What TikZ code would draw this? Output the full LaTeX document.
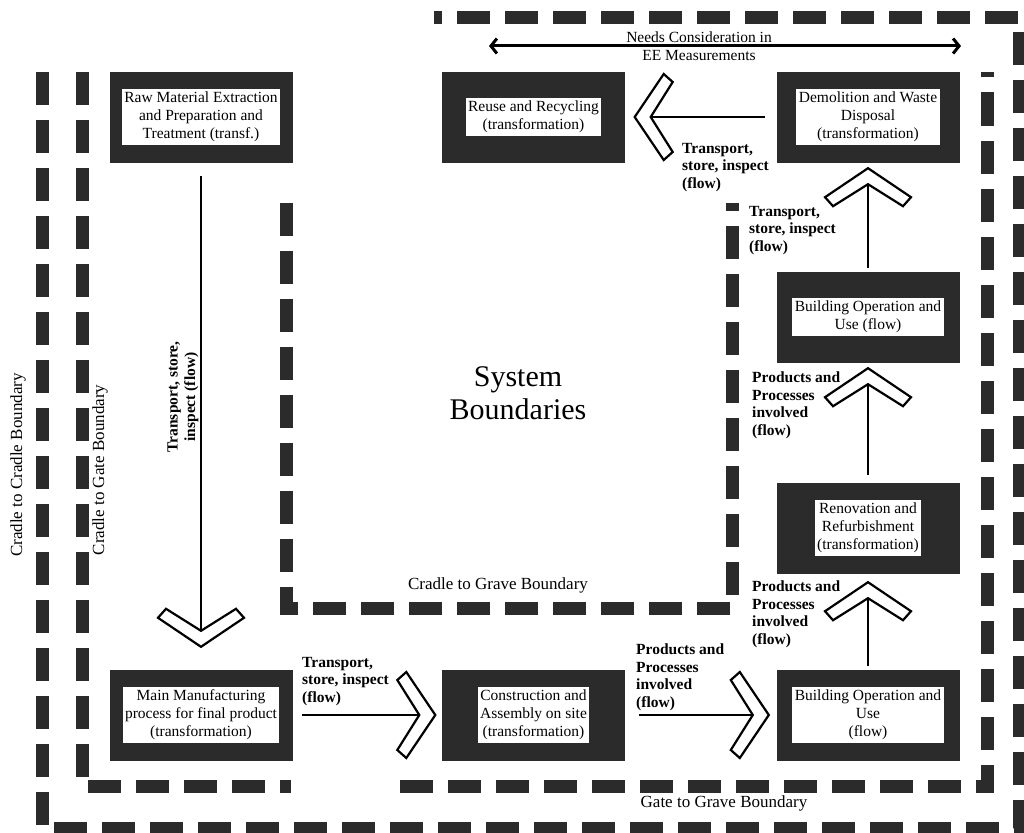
\documentclass[tikz,border=0pt]{standalone}
\usepackage{fontspec}
\setmainfont{Liberation Serif}
\usetikzlibrary{arrows.meta}
\begin{document}
\begin{tikzpicture}[x=1pt,y=-1pt,
  bnd/.style={line width=13pt, dash pattern=on 33pt off 15pt, draw=black!83},
  outerbox/.style={fill=black!83, draw=black!83, minimum width=182pt, minimum height=90pt, inner sep=0pt},
  innerbox/.style={fill=white, inner sep=2.5pt, align=center, font=\fontsize{15.5}{18}\selectfont},
  lbl/.style={font=\bfseries\fontsize{15.5}{17.5}\selectfont, align=left, inner sep=0pt, anchor=north west},
  blbl/.style={font=\fontsize{17}{20}\selectfont, inner sep=0pt},
  flow/.style={line width=2.6pt, draw=black},
  chev/.pic={\draw[line width=2.2pt, fill=white, line join=miter] (0,0) -- (-29,43) -- (-38,35) -- (-16,0) -- (-38,-35) -- (-29,-43) -- cycle;}
]
\useasboundingbox (0,0) rectangle (1024,832);

% boundaries
\draw[bnd] (42,72) -- (42,828) -- (1019,828) -- (1019,18) -- (434,18);
\draw[bnd] (82,72) -- (82,786.5) -- (291,786.5);
\draw[bnd] (400,786.5) -- (987,786.5) -- (987,72);
\draw[bnd] (286,203) -- (286,608) -- (732,608) -- (732,203);

% boundary labels
\node[blbl, rotate=90] (cc) at (18,465) {Cradle to Cradle Boundary};
\node[blbl, rotate=90] (cg) at (100,470) {Cradle to Gate Boundary};
\node[blbl] (cgr) at (498,585) {Cradle to Grave Boundary};
\node[blbl] (ggr) at (724,803) {Gate to Grave Boundary};
\node[font=\fontsize{30}{33}\selectfont, align=center, inner sep=0pt] (sb) at (518,393) {System\\Boundaries};

% boxes
\node[outerbox] (raw) at (201,117) {};
\node[innerbox] (rawt) at (raw) {Raw Material Extraction\\and Preparation and\\Treatment (transf.)};
\node[outerbox] (reuse) at (533.5,117) {};
\node[innerbox] (reuset) at (reuse) {Reuse and Recycling\\(transformation)};
\node[outerbox] (demo) at (868,117) {};
\node[innerbox] (demot) at (demo) {Demolition and Waste\\Disposal\\(transformation)};
\node[outerbox] (bop2) at (868,317) {};
\node[innerbox] (bop2t) at (bop2) {Building Operation and\\Use (flow)};
\node[outerbox] (ren) at (868,528) {};
\node[innerbox] (rent) at (ren) {Renovation and\\Refurbishment\\(transformation)};
\node[outerbox] (bop1) at (868,715) {};
\node[innerbox] (bop1t) at (bop1) {Building Operation and\\Use\\(flow)};
\node[outerbox] (mm) at (201,715) {};
\node[innerbox] (mmt) at (mm) {Main Manufacturing\\process for final product\\(transformation)};
\node[outerbox] (ca) at (533.5,715) {};
\node[innerbox] (cat) at (ca) {Construction and\\Assembly on site\\(transformation)};

% flows
\draw[flow, shorten <=14pt, shorten >=39pt] (raw) -- (mm);
\pic[rotate=-90] at ([yshift=23pt]mm.north) {chev};
\draw[flow, shorten <=10pt, shorten >=23pt] (mm) -- (ca);
\pic at ([xshift=-7pt]ca.west) {chev};
\draw[flow, shorten <=14pt, shorten >=24pt] (ca) -- (bop1);
\pic at ([xshift=-8pt]bop1.west) {chev};
\draw[flow, shorten <=4pt, shorten >=25pt] (bop1) -- (ren);
\pic[rotate=90] at ([yshift=-9pt]ren.south) {chev};
\draw[flow, shorten <=8pt, shorten >=22pt] (ren) -- (bop2);
\pic[rotate=90] at ([yshift=-6pt]bop2.south) {chev};
\draw[flow, shorten <=4pt, shorten >=22pt] (bop2) -- (demo);
\pic[rotate=90] at ([yshift=-6pt]demo.south) {chev};
\draw[flow, shorten <=12pt, shorten >=26pt] (demo) -- (reuse);
\pic[rotate=180] at ([xshift=10pt]reuse.east) {chev};

% flow labels
\node[font=\bfseries\fontsize{15.5}{17.5}\selectfont, align=center, inner sep=0pt, rotate=90] (vl) at (183,397) {Transport, store,\\inspect (flow)};
\node[lbl] (l1) at (302,657) {Transport,\\store, inspect\\(flow)};
\node[lbl] (l2) at (636,644) {Products and\\Processes\\involved\\(flow)};
\node[lbl] (l3) at (752,581) {Products and\\Processes\\involved\\(flow)};
\node[lbl] (l4) at (752,372) {Products and\\Processes\\involved\\(flow)};
\node[lbl] (l5) at (749,206) {Transport,\\store, inspect\\(flow)};
\node[lbl] (l6) at (682,143) {Transport,\\store, inspect\\(flow)};

% EE measurement arrow
\coordinate (ee1) at (489,46);
\coordinate (ee2) at (961,46);
\draw[line width=3pt, {Straight Barb[length=6pt,width=15pt]}-{Straight Barb[length=6pt,width=15pt]}] (ee1) -- (ee2);
\node[font=\fontsize{15.5}{18}\selectfont, align=center, inner sep=0pt] (ee) at (699,46) {Needs Consideration in\\EE Measurements};
\end{tikzpicture}
\end{document}
